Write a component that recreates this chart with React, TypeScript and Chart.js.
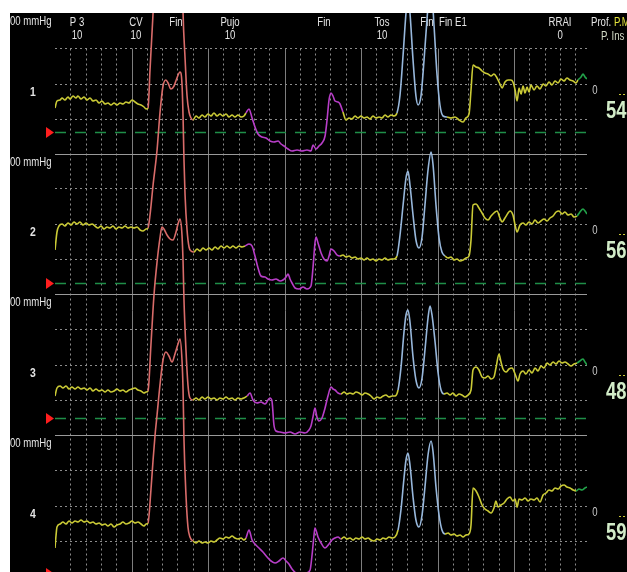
import React, { useEffect, useRef } from "react";
import { Chart, registerables } from "chart.js";

Chart.register(...registerables);

// Time axis in seconds; each channel pressure in its own display units.
const X_MAX = 34.77;

// Channel 1 samples: [time s, pressure]
const CHANNEL_1: [number, number][] = [
  [0, 46], [0.13, 53], [0.33, 54], [0.46, 56], [0.65, 54], [0.85, 57], [0.98, 55], [1.18, 58], [1.37, 56], [1.5, 58],
  [1.7, 55], [1.9, 57], [2.09, 54], [2.29, 56], [2.48, 53], [2.68, 54], [2.88, 51], [3.07, 53], [3.27, 50], [3.46, 51],
  [3.66, 49], [3.86, 51], [4.05, 49], [4.25, 51], [4.44, 50], [4.64, 52], [4.84, 51], [5.03, 54], [5.23, 52], [5.42, 50],
  [5.62, 49], [5.82, 47], [5.95, 45],
  [6.08, 46], [6.21, 84], [6.41, 141], [6.6, 189], [6.86, 216], [7.12, 226], [7.32, 222], [7.58, 214], [7.91, 228],
  [8.17, 234], [8.3, 199], [8.37, 141], [8.5, 96], [8.63, 58], [8.76, 42], [8.89, 36],
  [9.02, 34], [9.22, 38], [9.41, 36], [9.61, 39], [9.8, 37], [10, 40], [10.2, 38], [10.39, 41], [10.59, 38], [10.78, 40],
  [10.98, 38], [11.18, 40], [11.37, 37], [11.57, 39], [11.76, 37], [11.96, 39], [12.16, 37], [12.35, 38],
  [12.48, 41], [12.68, 45], [12.88, 36], [13.07, 27], [13.27, 20], [13.53, 17], [13.79, 16], [14.05, 13], [14.31, 12],
  [14.58, 13], [14.77, 10], [14.97, 8], [15.23, 5], [15.49, 3], [15.82, 4], [16.14, 3], [16.47, 4], [16.73, 3], [16.86, 9],
  [17.06, 5], [17.25, 8], [17.45, 11], [17.65, 18], [17.78, 34], [17.91, 54], [18.04, 61], [18.17, 58], [18.3, 53],
  [18.5, 52], [18.63, 50],
  [18.82, 42], [19.02, 34], [19.22, 36], [19.41, 35], [19.61, 38], [19.8, 36], [20, 38], [20.2, 36], [20.39, 37],
  [20.59, 35], [20.78, 38], [20.98, 36], [21.18, 37], [21.37, 36], [21.57, 39], [21.76, 37], [21.96, 39], [22.16, 38],
  [22.35, 41], [22.55, 59], [22.75, 99], [22.94, 141], [23.07, 159], [23.2, 141], [23.4, 94], [23.59, 58], [23.73, 49],
  [23.92, 58], [24.12, 94], [24.31, 134], [24.51, 166], [24.64, 159], [24.77, 129], [24.97, 79], [25.16, 49], [25.36, 38],
  [25.62, 37], [25.88, 36], [26.14, 37], [26.41, 34], [26.67, 32], [26.86, 36], [27.06, 40], [27.19, 64], [27.32, 89],
  [27.52, 87], [27.71, 86], [27.91, 83], [28.1, 81], [28.3, 80], [28.5, 78], [28.69, 80], [28.89, 76], [29.08, 70],
  [29.22, 66], [29.41, 72], [29.61, 74], [29.8, 74], [29.93, 72], [30.07, 64], [30.2, 53], [30.33, 66], [30.46, 60],
  [30.59, 68], [30.72, 61], [30.85, 67], [30.98, 62], [31.11, 69], [31.31, 64], [31.5, 68], [31.7, 65], [31.9, 70],
  [32.09, 68], [32.29, 72], [32.48, 69], [32.68, 73], [32.88, 71], [33.07, 75], [33.27, 73], [33.46, 76], [33.66, 74],
  [33.86, 73], [34.05, 71],
  [34.18, 74], [34.38, 77], [34.51, 80], [34.64, 77], [34.77, 75],
];

// Channel 2 samples
const CHANNEL_2: [number, number][] = [
  [0, 44], [0.13, 62], [0.26, 68], [0.46, 70], [0.65, 68], [0.85, 71], [1.05, 69], [1.24, 72], [1.44, 70], [1.63, 72],
  [1.83, 69], [2.03, 71], [2.22, 69], [2.42, 70], [2.61, 68], [2.81, 66], [3.01, 68], [3.2, 65], [3.4, 67], [3.59, 66],
  [3.79, 68], [3.99, 65], [4.18, 67], [4.38, 66], [4.58, 68], [4.77, 66], [4.97, 67], [5.16, 66], [5.36, 67], [5.56, 64],
  [5.75, 63], [5.95, 65],
  [6.08, 66], [6.21, 79], [6.41, 109], [6.67, 144], [6.86, 181], [7.06, 208], [7.25, 214], [7.39, 211], [7.58, 205],
  [7.78, 208], [7.97, 216], [8.17, 222], [8.3, 210], [8.37, 177], [8.43, 134], [8.5, 99], [8.63, 64], [8.76, 47], [8.89, 43],
  [9.08, 42], [9.28, 45], [9.48, 43], [9.67, 46], [9.87, 44], [10.07, 46], [10.26, 44], [10.46, 47], [10.65, 45],
  [10.85, 48], [11.05, 46], [11.24, 48], [11.44, 46], [11.63, 48], [11.83, 46], [12.03, 48], [12.22, 47],
  [12.42, 48], [12.68, 50], [12.88, 48], [13.07, 38], [13.27, 26], [13.46, 18], [13.73, 17], [13.92, 15], [14.18, 14],
  [14.44, 15], [14.71, 13], [14.9, 14], [15.1, 17], [15.23, 20], [15.36, 15], [15.49, 11], [15.69, 6], [15.95, 5],
  [16.21, 7], [16.47, 5], [16.73, 8], [16.86, 26], [16.99, 51], [17.06, 57], [17.19, 51], [17.39, 41], [17.58, 35],
  [17.78, 33], [17.91, 38], [18.04, 45], [18.24, 43], [18.43, 39],
  [18.63, 38], [18.82, 39], [19.02, 37], [19.22, 38], [19.41, 36], [19.61, 37], [19.8, 35], [20, 36], [20.2, 34],
  [20.39, 36], [20.59, 34], [20.78, 35], [20.98, 33], [21.18, 35], [21.37, 34], [21.57, 36], [21.76, 34], [21.96, 35],
  [22.16, 35],
  [22.35, 38], [22.55, 59], [22.75, 89], [22.94, 116], [23.07, 123], [23.2, 109], [23.4, 79], [23.59, 54], [23.79, 46],
  [23.99, 57], [24.18, 89], [24.38, 124], [24.58, 142], [24.71, 129], [24.9, 89], [25.1, 56], [25.29, 42],
  [25.49, 38], [25.69, 36], [25.88, 37], [26.08, 34], [26.27, 35], [26.47, 33], [26.67, 34], [26.86, 36], [27.06, 38],
  [27.19, 54], [27.32, 89], [27.52, 90], [27.71, 86], [27.91, 81], [28.1, 76], [28.3, 74], [28.5, 78], [28.69, 81],
  [28.89, 83], [29.08, 76], [29.22, 72], [29.41, 76], [29.61, 81], [29.74, 83], [29.93, 79], [30.07, 69], [30.2, 62],
  [30.39, 69], [30.59, 71], [30.78, 69], [30.98, 72], [31.18, 70], [31.37, 74], [31.57, 71], [31.76, 73], [31.96, 75],
  [32.16, 73], [32.35, 76], [32.55, 78], [32.75, 82], [32.94, 83], [33.14, 80], [33.33, 82], [33.53, 79], [33.73, 80],
  [33.92, 77],
  [34.12, 78], [34.31, 82], [34.51, 85], [34.64, 83], [34.77, 80],
];

// Channel 3 samples
const CHANNEL_3: [number, number][] = [
  [0, 39], [0.13, 47], [0.33, 49], [0.52, 47], [0.72, 49], [0.92, 46], [1.11, 48], [1.31, 46], [1.5, 48], [1.7, 46],
  [1.9, 47], [2.09, 45], [2.29, 47], [2.48, 44], [2.68, 46], [2.88, 44], [3.07, 45], [3.27, 43], [3.46, 45], [3.66, 43],
  [3.86, 44], [4.05, 46], [4.25, 44], [4.44, 45], [4.64, 43], [4.84, 45], [5.03, 46], [5.23, 47], [5.42, 45], [5.62, 44],
  [5.82, 42], [5.95, 43],
  [6.08, 44], [6.27, 90], [6.47, 140], [6.67, 173], [6.86, 197], [6.99, 208], [7.12, 206], [7.32, 200], [7.52, 196],
  [7.71, 195], [7.91, 203], [8.04, 211], [8.17, 216], [8.3, 200], [8.37, 173], [8.43, 135], [8.56, 85], [8.69, 50], [8.82, 37],
  [9.02, 35], [9.22, 37], [9.41, 35], [9.61, 38], [9.8, 36], [10, 38], [10.2, 36], [10.39, 37], [10.59, 35], [10.78, 37],
  [10.98, 36], [11.18, 38], [11.37, 36], [11.57, 37], [11.76, 35], [11.96, 37], [12.16, 36], [12.35, 37],
  [12.55, 39], [12.75, 42], [12.94, 35], [13.2, 32], [13.46, 33], [13.73, 31], [13.92, 35], [14.05, 37], [14.18, 34],
  [14.31, 10], [14.44, 4], [14.71, 3], [15.03, 2], [15.36, 3], [15.69, 1], [16.01, 3], [16.34, 2], [16.6, 5], [16.73, 9],
  [16.86, 18], [16.99, 27], [17.12, 18], [17.25, 14], [17.45, 17], [17.65, 27], [17.84, 39], [18.04, 48], [18.17, 46],
  [18.3, 45], [18.5, 42],
  [18.69, 41], [18.89, 43], [19.08, 41], [19.28, 42], [19.48, 41], [19.67, 43], [19.87, 42], [20.07, 40], [20.26, 42],
  [20.46, 41], [20.65, 39], [20.85, 36], [21.05, 38], [21.24, 37], [21.44, 39], [21.63, 40], [21.83, 38], [22.03, 39],
  [22.22, 39],
  [22.42, 45], [22.61, 67], [22.81, 103], [22.94, 120], [23.07, 125], [23.2, 113], [23.4, 78], [23.59, 55], [23.79, 47],
  [23.99, 57], [24.18, 85], [24.38, 117], [24.51, 129], [24.64, 120], [24.84, 93], [25.03, 63], [25.23, 45],
  [25.42, 41], [25.62, 42], [25.82, 40], [26.01, 42], [26.21, 39], [26.41, 41], [26.6, 40], [26.8, 38], [26.99, 40],
  [27.19, 45], [27.32, 65], [27.52, 68], [27.71, 65], [27.91, 58], [28.1, 57], [28.3, 59], [28.5, 56], [28.69, 58],
  [28.82, 67], [29.02, 81], [29.15, 73], [29.28, 66], [29.48, 63], [29.67, 66], [29.87, 67], [30.07, 61], [30.26, 54],
  [30.39, 61], [30.59, 64], [30.78, 61], [30.98, 65], [31.18, 62], [31.37, 67], [31.57, 64], [31.76, 69], [31.96, 67],
  [32.16, 72], [32.35, 70], [32.55, 73], [32.75, 71], [32.94, 74], [33.14, 72], [33.33, 73], [33.53, 71], [33.73, 69],
  [33.92, 71],
  [34.12, 72], [34.31, 74], [34.51, 76], [34.64, 73], [34.77, 70],
];

// Channel 4 samples
const CHANNEL_4: [number, number][] = [
  [0, 28], [0.07, 41], [0.13, 49], [0.33, 52], [0.52, 54], [0.72, 52], [0.92, 55], [1.11, 53], [1.31, 55], [1.5, 54],
  [1.7, 56], [1.9, 54], [2.09, 55], [2.29, 53], [2.48, 54], [2.68, 52], [2.88, 53], [3.07, 51], [3.27, 52], [3.46, 50],
  [3.66, 52], [3.86, 49], [4.05, 51], [4.25, 52], [4.44, 54], [4.64, 52], [4.84, 53], [5.03, 55], [5.23, 53], [5.42, 54],
  [5.62, 52], [5.82, 50], [5.95, 52],
  [6.08, 53], [6.27, 86], [6.41, 116], [6.54, 141], [6.67, 161], [6.86, 191], [7.06, 216], [7.25, 224], [7.45, 220],
  [7.65, 214], [7.84, 222], [8.04, 232], [8.17, 237], [8.3, 216], [8.37, 186], [8.43, 136], [8.56, 81], [8.69, 49], [8.82, 39],
  [9.02, 35], [9.22, 33], [9.41, 35], [9.61, 33], [9.8, 34], [10, 33], [10.2, 35], [10.39, 34], [10.59, 36], [10.78, 38],
  [10.98, 37], [11.18, 39], [11.37, 38], [11.57, 40], [11.76, 38], [11.96, 37], [12.16, 38], [12.35, 36],
  [12.48, 38], [12.68, 46], [12.88, 36], [13.07, 32], [13.33, 28], [13.59, 24], [13.86, 19], [14.12, 15], [14.38, 13],
  [14.64, 15], [14.9, 18], [15.1, 15], [15.29, 12], [15.49, 7], [15.75, 3], [16.08, 2], [16.41, 3], [16.67, 6], [16.8, 21],
  [16.93, 41], [16.99, 48], [17.19, 39], [17.39, 33], [17.65, 28], [17.91, 32], [18.1, 36], [18.3, 38], [18.5, 39],
  [18.69, 37], [18.89, 39], [19.08, 37], [19.28, 38], [19.48, 36], [19.67, 38], [19.87, 37], [20.07, 39], [20.26, 37],
  [20.46, 38], [20.65, 36], [20.85, 35], [21.05, 37], [21.24, 36], [21.44, 38], [21.63, 37], [21.83, 39], [22.03, 38],
  [22.22, 39],
  [22.42, 46], [22.61, 66], [22.81, 98], [22.94, 116], [23.07, 123], [23.2, 111], [23.4, 79], [23.59, 56], [23.79, 49],
  [23.99, 61], [24.18, 89], [24.38, 121], [24.58, 135], [24.71, 124], [24.9, 89], [25.1, 61], [25.29, 46],
  [25.49, 42], [25.69, 43], [25.88, 41], [26.08, 42], [26.27, 40], [26.47, 41], [26.67, 39], [26.86, 41], [27.06, 42],
  [27.19, 51], [27.32, 88], [27.52, 85], [27.71, 79], [27.91, 71], [28.1, 67], [28.3, 65], [28.5, 63], [28.69, 68],
  [28.82, 75], [28.95, 69], [29.15, 71], [29.35, 73], [29.54, 77], [29.74, 79], [29.93, 75], [30.07, 77], [30.2, 69],
  [30.33, 77], [30.52, 76], [30.72, 78], [30.92, 75], [31.11, 77], [31.31, 76], [31.5, 78], [31.7, 74], [31.9, 81],
  [32.09, 83], [32.29, 86], [32.48, 85], [32.68, 88], [32.88, 87], [33.07, 90], [33.27, 91], [33.46, 89], [33.66, 88],
  [33.86, 86],
  [34.05, 85], [34.25, 87], [34.44, 86], [34.64, 88], [34.77, 89],
];

// Start times of each manoeuvre phase per channel (red, rest, magenta, rest, blue, rest, green)
const PHASES_1 = [6.08, 9.02, 12.48, 18.82, 22.35, 25.62, 34.18];
const PHASES_2 = [6.08, 9.08, 12.42, 18.63, 22.35, 25.49, 34.12];
const PHASES_3 = [6.08, 9.02, 12.55, 18.69, 22.42, 25.42, 34.12];
const PHASES_4 = [6.08, 9.02, 12.48, 18.69, 22.42, 25.49, 34.05];
const PHASE_COLORS = ["#caca36", "#d96c6a", "#caca36", "#b83ec8", "#caca36", "#98b8dc", "#caca36", "#22a24a"];

// Channel display ranges and relative heights
const RANGE_MIN = [0, 0, 0, 4];
const RANGE_MAX = [141, 140, 141, 141];
const STACK_WEIGHTS = [141, 140, 141, 137];
const GRID_LEVELS = [35.25, 70.5, 105.75];
const BASELINES = [22, 11, 17, 3];
const CHANNEL_NAMES = ["1", "2", "3", "4"];
const CHANNEL_VALUES = ["54", "56", "48", "59"];

// Event marks along the time axis
const EVENT_LABELS = ["P 3", "CV", "Fin", "Pujo", "Fin", "Tos", "Fin", "Fin E1", "RRAI"];
const EVENT_COUNTS = ["10", "10", "", "10", "", "10", "", "", "0"];
const EVENT_TIMES = [1.44, 5.29, 7.91, 11.44, 17.58, 21.37, 24.31, 26.01, 33.01];

const CHANNELS = [
  { id: "y1", points: CHANNEL_1, phases: PHASES_1 },
  { id: "y2", points: CHANNEL_2, phases: PHASES_2 },
  { id: "y3", points: CHANNEL_3, phases: PHASES_3 },
  { id: "y4", points: CHANNEL_4, phases: PHASES_4 },
];

const FONT = '"Liberation Sans", Arial, sans-serif';
const SQUEEZE = 0.8;
const TEXT = "#e4e4e4";

function phaseColor(phases: number[], x: number): string {
  let i = 0;
  while (i < phases.length && x >= phases[i] - 1e-6) i++;
  return PHASE_COLORS[i];
}

function hline(ctx: CanvasRenderingContext2D, x0: number, x1: number, y: number) {
  ctx.beginPath();
  ctx.moveTo(x0, y);
  ctx.lineTo(x1, y);
  ctx.stroke();
}

// Condensed text in the style of the monitor's narrow typeface.
function label(
  ctx: CanvasRenderingContext2D,
  text: string,
  x: number,
  y: number,
  size: number,
  color: string,
  align: CanvasTextAlign = "center",
  bold = false
): number {
  ctx.save();
  ctx.translate(x, y);
  ctx.scale(SQUEEZE, 1);
  ctx.font = `${bold ? "bold " : ""}${size}px ${FONT}`;
  ctx.textAlign = align;
  ctx.textBaseline = "middle";
  ctx.fillStyle = color;
  ctx.fillText(text, 0, 0);
  const w = ctx.measureText(text).width * SQUEEZE;
  ctx.restore();
  return w;
}

const scopePlugin = {
  id: "scopeScreen",
  beforeDraw(chart: any) {
    const { ctx, width, height, chartArea } = chart;
    ctx.save();
    ctx.fillStyle = "#ffffff";
    ctx.fillRect(0, 0, width, height);
    ctx.fillStyle = "#000000";
    ctx.fillRect(10, chartArea.top, width - 10, height - chartArea.top);
    ctx.restore();
  },
  beforeDatasetsDraw(chart: any) {
    const { ctx, chartArea } = chart;
    const xs = chart.scales.x;
    ctx.save();
    ctx.lineWidth = 1;

    // vertical time grid
    const gridTop = Math.round(chart.scales.y1.getPixelForValue(GRID_LEVELS[2])) + 0.5;
    for (let s = 1; s < X_MAX; s++) {
      const px = Math.round(xs.getPixelForValue(s)) + 0.5;
      const major = s % 5 === 0;
      ctx.strokeStyle = major ? "#7e7e7e" : "#8c8c8c";
      ctx.setLineDash(major ? [] : [2, 3]);
      ctx.beginPath();
      ctx.moveTo(px, gridTop);
      ctx.lineTo(px, chartArea.bottom);
      ctx.stroke();
    }

    // horizontal grid per channel
    CHANNELS.forEach((c, i) => {
      const sc = chart.scales[c.id];
      ctx.strokeStyle = "#8c8c8c";
      ctx.setLineDash([2, 3]);
      GRID_LEVELS.forEach((v) => hline(ctx, chartArea.left, chartArea.right, Math.round(sc.getPixelForValue(v)) + 0.5));
      if (RANGE_MIN[i] === 0) {
        ctx.setLineDash([]);
        ctx.strokeStyle = "#9a9a9a";
        hline(ctx, chartArea.left, chartArea.right, Math.round(sc.getPixelForValue(0)) + 0.5);
      }
    });

    // baseline markers
    CHANNELS.forEach((c, i) => {
      const sc = chart.scales[c.id];
      const y = Math.round(sc.getPixelForValue(BASELINES[i])) + 0.5;
      ctx.setLineDash([11, 9]);
      ctx.strokeStyle = "#1f8e48";
      ctx.lineWidth = 1.6;
      hline(ctx, chartArea.left, chartArea.right, y);
      ctx.setLineDash([]);
      ctx.fillStyle = "#ff1e1e";
      ctx.beginPath();
      ctx.moveTo(46, y - 5.5);
      ctx.lineTo(54, y);
      ctx.lineTo(46, y + 5.5);
      ctx.closePath();
      ctx.fill();
    });

    // channel captions
    CHANNELS.forEach((c, i) => {
      const sc = chart.scales[c.id];
      label(ctx, "00 mmHg", 10, sc.top + 9, 12, TEXT, "left");
      label(ctx, CHANNEL_NAMES[i], 33, sc.getPixelForValue(62), 13, TEXT, "center", true);
    });

    // event labels
    EVENT_TIMES.forEach((t, i) => {
      const px = xs.getPixelForValue(t);
      label(ctx, EVENT_LABELS[i], px, chartArea.top + 10, 12, TEXT);
      if (EVENT_COUNTS[i]) label(ctx, EVENT_COUNTS[i], px, chartArea.top + 23, 12, TEXT);
    });
    ctx.restore();
  },
  afterDatasetsDraw(chart: any) {
    const { ctx, chartArea } = chart;
    ctx.save();

    // header on the right
    const w = label(ctx, "Prof. ", 591, chartArea.top + 10, 12, TEXT, "left");
    label(ctx, "P.M", 591 + w, chartArea.top + 10, 12, "#e2e23c", "left");
    label(ctx, "P. Ins", 601, chartArea.top + 24, 12, "#d4dcc8", "left");

    CHANNELS.forEach((c, i) => {
      const sc = chart.scales[c.id];
      const y = sc.getPixelForValue(63);
      label(ctx, "0", 595, y, 12, "#c8c8c8");
      ctx.strokeStyle = "#caca36";
      ctx.lineWidth = 1.2;
      ctx.setLineDash([2, 2]);
      hline(ctx, 619, 628, Math.round(y + 3) + 0.5);
      ctx.setLineDash([]);
      label(ctx, CHANNEL_VALUES[i], 606, y + 21, 23, "#d2ecc8", "left", true);
    });
    ctx.restore();
  },
};

export default function App() {
  const ref = useRef<HTMLCanvasElement | null>(null);

  useEffect(() => {
    if (!ref.current) return;
    const total = STACK_WEIGHTS.reduce((a, b) => a + b, 0);
    const yScales: Record<string, any> = {};
    CHANNELS.forEach((c, i) => {
      yScales[c.id] = {
        type: "linear",
        position: "right",
        stack: "channels",
        stackWeight: STACK_WEIGHTS[i],
        weight: i + 1,
        min: RANGE_MIN[i],
        max: RANGE_MAX[i],
        display: false,
      };
    });

    const chart = new Chart(ref.current, {
      type: "line",
      data: {
        datasets: CHANNELS.map((c, i) => {
          // let each trace run over the neighbouring channels, but not outside the screen area
          const above = STACK_WEIGHTS.slice(0, i).reduce((a, b) => a + b, 0);
          const below = total - above - STACK_WEIGHTS[i];
          return {
            data: c.points.map(([t, p]) => ({ x: t, y: p })),
            yAxisID: c.id,
            borderColor: PHASE_COLORS[0],
            borderWidth: 1.6,
            pointRadius: 0,
            cubicInterpolationMode: "monotone" as const,
            clip: { left: 0, right: 0, top: above, bottom: below },
            segment: {
              borderColor: (ctx: any) => phaseColor(c.phases, ctx.p0.parsed.x),
            },
          };
        }),
      },
      options: {
        animation: false,
        responsive: false,
        devicePixelRatio: 1,
        events: [],
        layout: { padding: { left: 55, right: 40, top: 13, bottom: 0 }, autoPadding: false },
        plugins: { legend: { display: false }, tooltip: { enabled: false } },
        scales: {
          x: { type: "linear", min: 0, max: X_MAX, display: false },
          ...yScales,
        },
      } as any,
      plugins: [scopePlugin],
    });
    return () => chart.destroy();
  }, []);

  return (
    <div style={{ position: "fixed", left: 0, top: 0, width: 627, height: 572 }}>
      <canvas ref={ref} width={627} height={572} style={{ display: "block" }} />
    </div>
  );
}
